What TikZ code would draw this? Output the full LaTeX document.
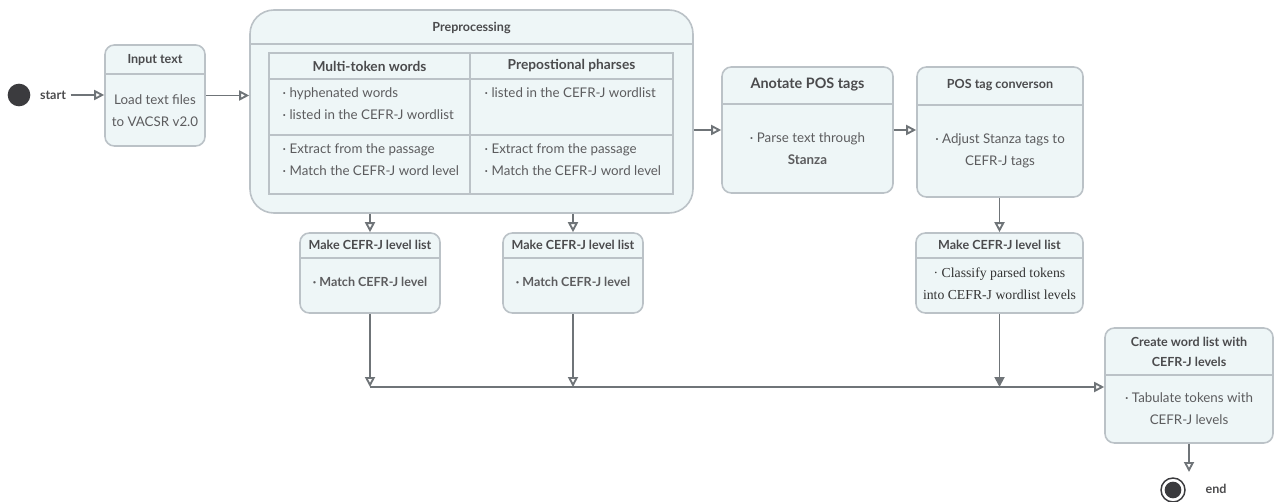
\documentclass[tikz,border=0pt]{standalone}
\usepackage{fontspec}
\setmainfont{Lato}
\newfontfamily\serifbody{Liberation Serif}
\usetikzlibrary{arrows.meta,fit}

\definecolor{boxfill}{HTML}{EEF6F7}
\definecolor{boxline}{HTML}{BBC2C7}
\definecolor{arrowgray}{HTML}{6F7478}
\definecolor{ttlgray}{HTML}{4B4B4D}
\definecolor{txtgray}{HTML}{5C5C5E}
\definecolor{dotgray}{HTML}{3B3B3E}

\begin{document}
\begin{tikzpicture}[x=0.75pt, y=-0.75pt,
    box/.style={draw=boxline, fill=boxfill, line width=1.2pt, rounded corners=7pt, inner sep=0pt},
    cell/.style={draw=boxline, line width=1.2pt, inner sep=0pt},
    sep/.style={draw=boxline, line width=1.2pt},
    ttl/.style={font=\bfseries\fontsize{9.4}{15}\selectfont, text=ttlgray, align=center},
    hdr/.style={font=\bfseries\fontsize{10.3}{15}\selectfont, text=ttlgray},
    txt/.style={font=\fontsize{10}{16.5}\selectfont, text=txtgray, align=center},
    item/.style={txt, align=left, anchor=west},
    flow/.style={draw=arrowgray, line width=1.4pt, -{Triangle[open, length=7.5pt, width=7.5pt]}},
    flowfill/.style={draw=arrowgray, line width=1.4pt, -{Triangle[length=7.5pt, width=7.5pt]}}]
  \useasboundingbox (0,0) rectangle (1274,502);

  % start
  \node[circle, fill=dotgray, minimum size=17pt, inner sep=0pt] (start) at (19,95) {};
  \node[ttl] (startLabel) at (53,95) {start};

  % input text
  \node[box, fit={(105,45) (205,146)}] (input) {};
  \draw[sep] (input.west |- 0,74) -- (input.east |- 0,74);
  \node[ttl] (inputTitle) at (155,60) {Input text};
  \node[txt] (inputBody) at (155,111) {Load text files\\to VACSR v2.0};

  % preprocessing
  \node[box, rounded corners=18pt, fit={(250,10) (693,213)}] (prep) {};
  \draw[sep] (prep.west |- 0,44) -- (prep.east |- 0,44);
  \node[ttl] (prepTitle) at (471.5,28) {Preprocessing};
  \node[cell, fit={(269,53) (673,194)}] (table) {};
  \draw[sep] (470,53) -- (470,194);
  \draw[sep] (269,79) -- (673,79);
  \draw[sep] (269,135) -- (673,135);
  \node[hdr] (multiHead) at (369.5,66) {Multi-token words};
  \node[hdr] (prepHead) at (571.5,66) {Prepostional pharses};
  \node[item] (multiA) at (278,104) {·~hyphenated words\\·~listed in the CEFR-J wordlist};
  \node[item] (prepA) at (480,93) {·~listed in the CEFR-J wordlist};
  \node[item] (multiB) at (278,160) {·~Extract from the passage\\·~Match the CEFR-J word level};
  \node[item] (prepB) at (480,160) {·~Extract from the passage\\·~Match the CEFR-J word level};

  % annotate
  \node[box, fit={(722,67) (893,193)}] (anotate) {};
  \draw[sep] (anotate.west |- 0,104) -- (anotate.east |- 0,104);
  \node[ttl, font=\bfseries\fontsize{10.8}{15}\selectfont] (anotateTitle) at (807.5,85) {Anotate POS tags};
  \node[txt] (anotateBody) at (807.5,149) {·~Parse text through\\\textbf{Stanza}};

  % conversion
  \node[box, fit={(917,67) (1083,197)}] (posconv) {};
  \draw[sep] (posconv.west |- 0,105) -- (posconv.east |- 0,105);
  \node[ttl] (posconvTitle) at (1000,85) {POS tag converson};
  \node[txt] (posconvBody) at (1000,151) {·~Adjust Stanza tags to\\CEFR-J tags};

  % level lists
  \node[box, fit={(300,233) (440,313)}] (make1) {};
  \draw[sep] (make1.west |- 0,258) -- (make1.east |- 0,258);
  \node[ttl] (make1Title) at (370,245) {Make CEFR-J level list};
  \node[txt, font=\bfseries\fontsize{9.4}{16.5}\selectfont] (make1Body) at (370,282) {·~Match CEFR-J level};

  \node[box, fit={(503,233) (643,313)}] (make2) {};
  \draw[sep] (make2.west |- 0,258) -- (make2.east |- 0,258);
  \node[ttl] (make2Title) at (573,245) {Make CEFR-J level list};
  \node[txt, font=\bfseries\fontsize{9.4}{16.5}\selectfont] (make2Body) at (573,282) {·~Match CEFR-J level};

  \node[box, fit={(916,233) (1083,313)}] (make3) {};
  \draw[sep] (make3.west |- 0,258) -- (make3.east |- 0,258);
  \node[ttl] (make3Title) at (999.5,245) {Make CEFR-J level list};
  \node[txt, text=black!80, font=\serifbody\fontsize{10.3}{16.5}\selectfont] (make3Body) at (999.5,284) {·~Classify parsed tokens\\into CEFR-J wordlist levels};

  % word list
  \node[box, fit={(1105,328) (1273,443)}] (final) {};
  \draw[sep] (final.west |- 0,375) -- (final.east |- 0,375);
  \node[ttl] (finalTitle) at (1189,352) {Create word list with\\CEFR-J levels};
  \node[txt] (finalBody) at (1189,409) {·~Tabulate tokens with\\CEFR-J levels};

  % end
  \node[circle, draw=dotgray, line width=1.1pt, minimum size=18pt, inner sep=0pt] (endRing) at (1173,490) {};
  \node[circle, fill=dotgray, minimum size=12.5pt, inner sep=0pt] (endDot) at (endRing) {};
  \node[ttl] (endLabel) at (1216,489) {end};

  \coordinate (bus1) at (370,387);
  \coordinate (bus2) at (573,387);
  \coordinate (bus3) at (999.5,387);
  \coordinate (endTip) at (1189,472);

  \draw[flow] (startLabel.east) -- (startLabel.east -| input.west);
  \draw[flow] (input.east) -- (input.east -| prep.west);
  \draw[flow] (prep.east |- anotate.west) -- (anotate.west);
  \draw[flow] (anotate.east) -- (anotate.east -| posconv.west);
  \draw[flow] (prep.south -| make1.north) -- (make1.north);
  \draw[flow] (prep.south -| make2.north) -- (make2.north);
  \draw[flow] (posconv.south -| make3.north) -- (make3.north);
  \draw[flow] (make1.south) -- (bus1);
  \draw[flow] (make2.south) -- (bus2);
  \draw[flowfill] (make3.south) -- (bus3);
  \draw[flow] (bus1) -- (bus1 -| final.west);
  \draw[flow] (final.south) -- (endTip);
\end{tikzpicture}
\end{document}
